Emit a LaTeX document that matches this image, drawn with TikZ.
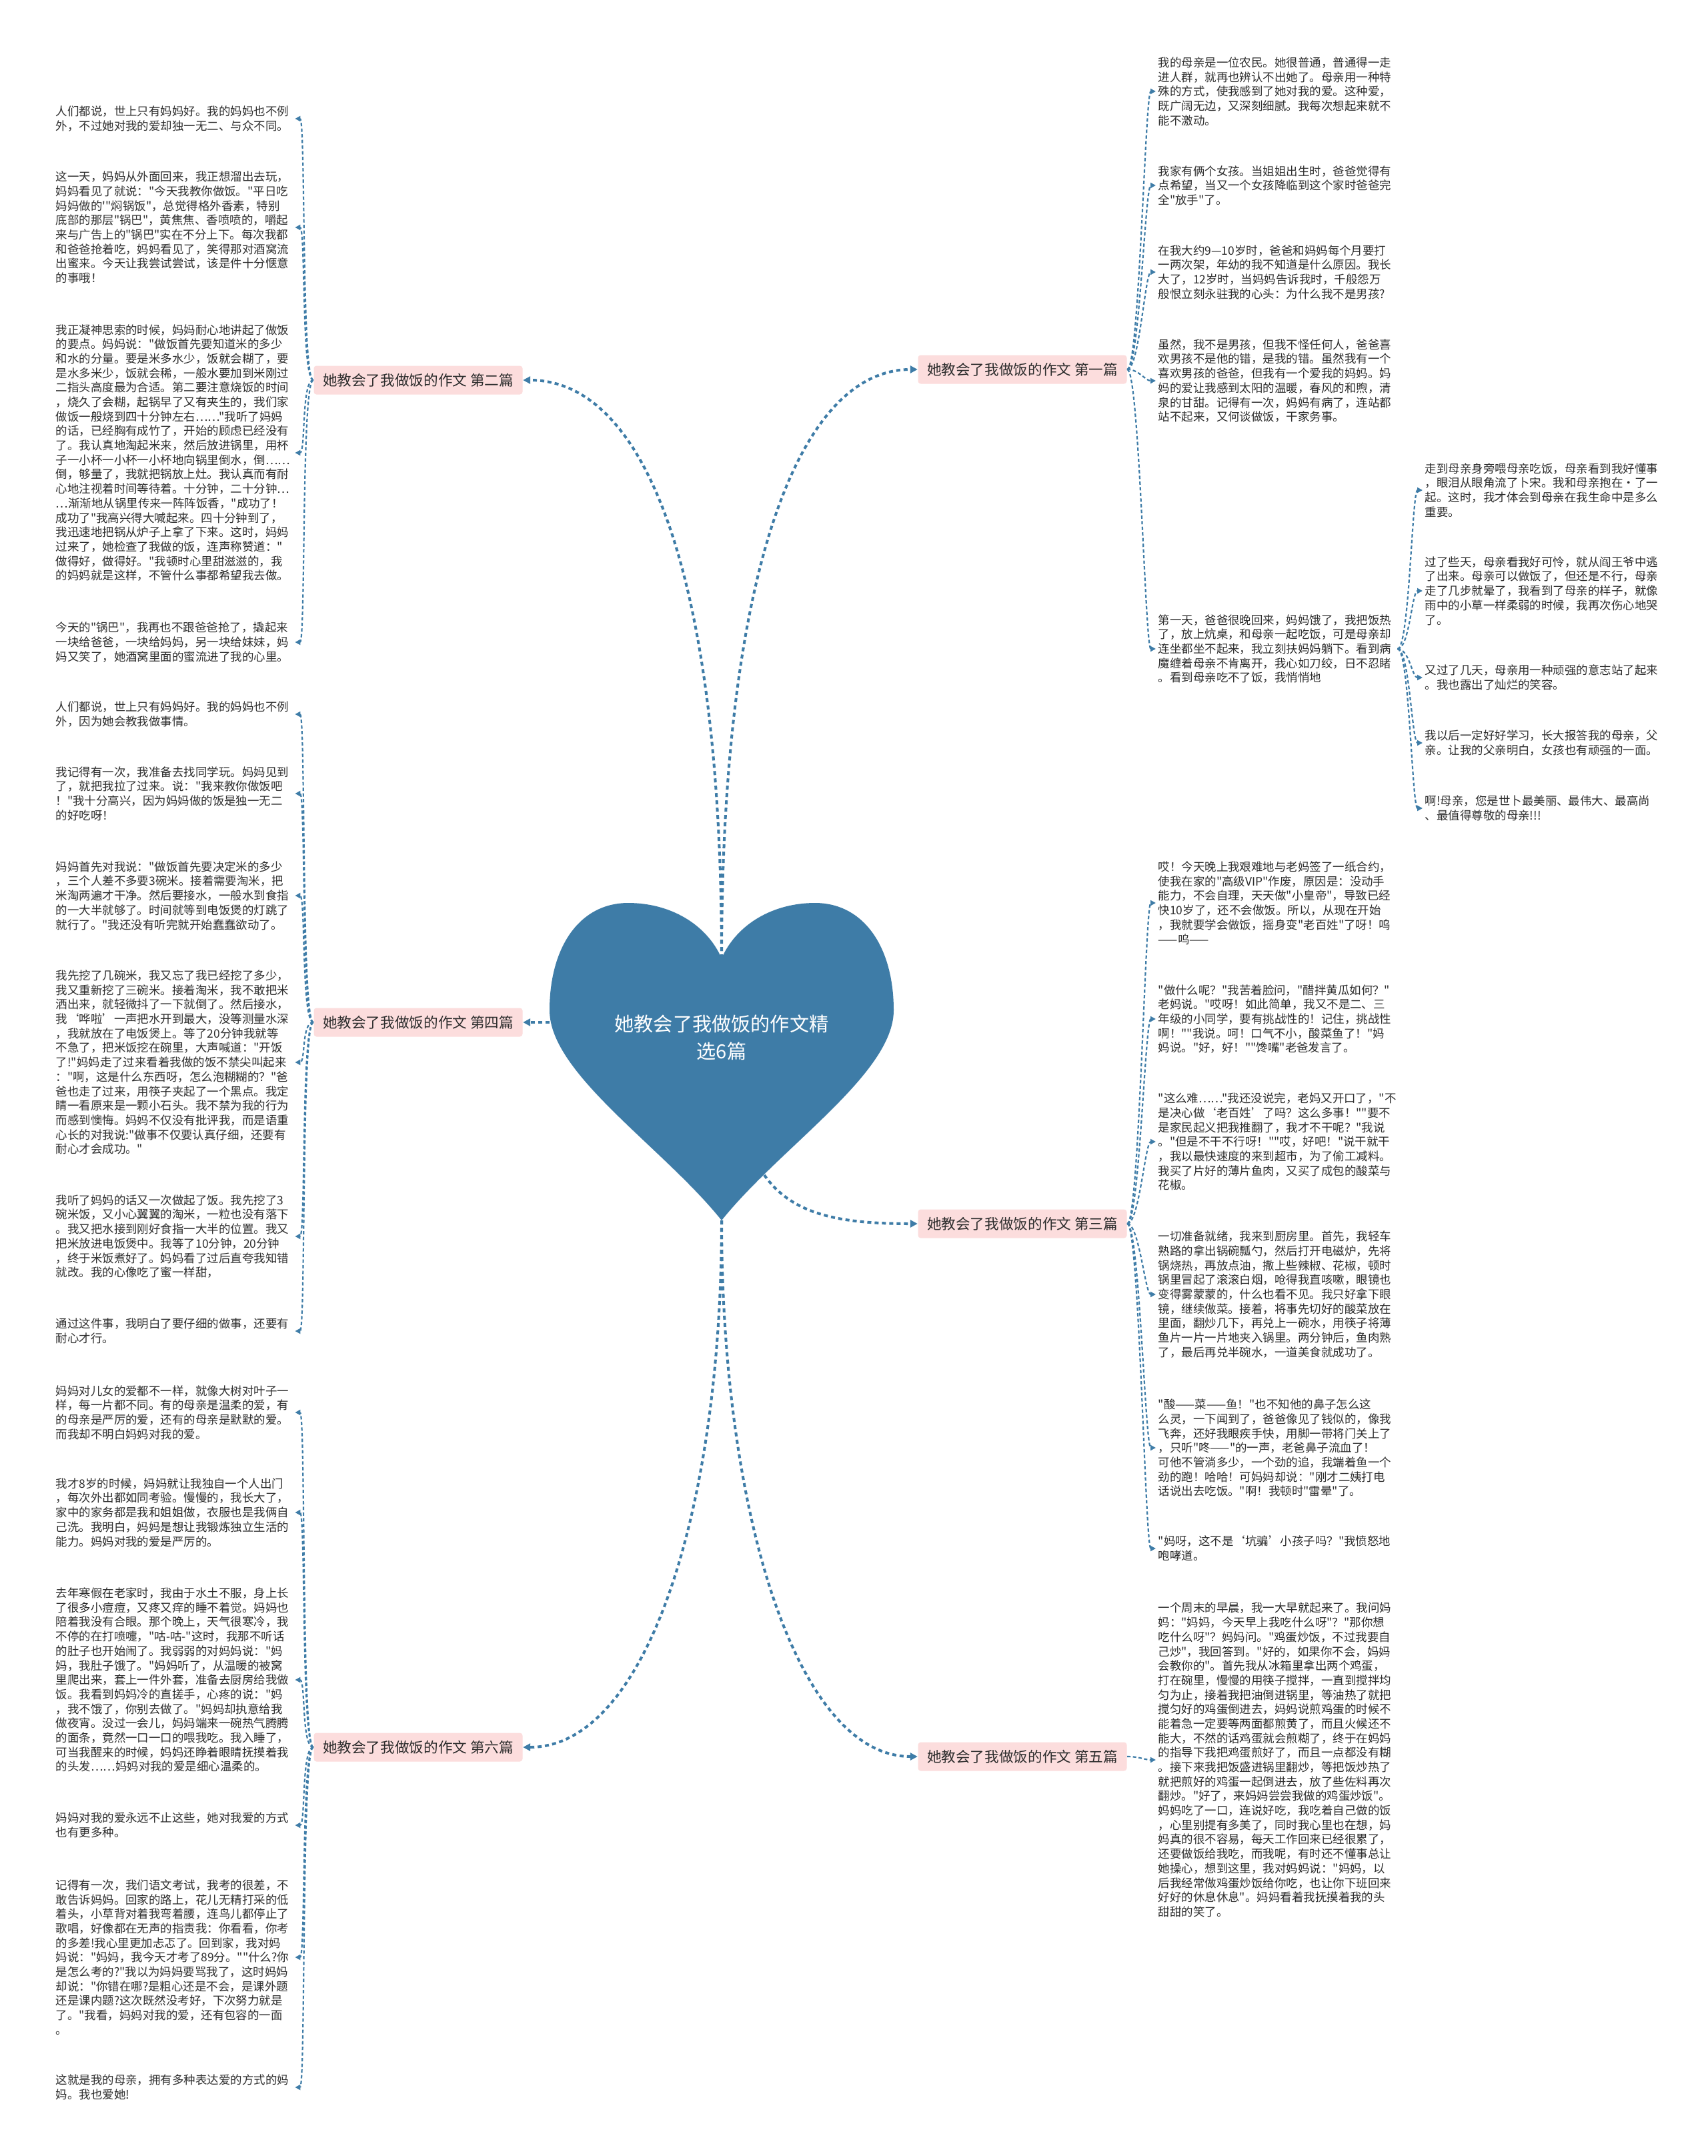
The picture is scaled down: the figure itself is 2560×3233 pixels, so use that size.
\documentclass[tikz,border=0pt]{standalone}
\usepackage{fontspec}
\newfontfamily\cjk{Noto Sans CJK SC}
\usetikzlibrary{arrows.meta}
\definecolor{heartblue}{RGB}{62,124,167}
\definecolor{topicpink}{RGB}{252,221,221}
\definecolor{textgray}{RGB}{45,45,45}

\begin{document}
\begin{tikzpicture}[x=0.1mm,y=-0.1mm,font=\cjk]
    \tikzstyle{topic}=[fill=topicpink,rounded corners=0.4mm,minimum width=31.3mm,minimum height=4.3mm,inner sep=0pt,text=textgray,font=\cjk\fontsize{6.15pt}{7pt}\selectfont]
    \tikzstyle{detail}=[anchor=west,text width=35.5mm,align=left,inner xsep=0.3mm,inner ysep=0pt,text=textgray,font=\cjk\fontsize{4.97pt}{6.17pt}\selectfont]
    \tikzstyle{mainlink}=[-{Triangle[length=1.1mm,width=1.1mm]},draw=heartblue,line width=0.4mm,dash pattern=on 0.6mm off 0.5mm]
    \tikzstyle{sublink}=[-{Triangle[length=0.8mm,width=0.8mm]},draw=heartblue,line width=0.22mm,dash pattern=on 0.5mm off 0.35mm]

    \path[use as bounding box,fill=white] (0,0) rectangle (2560,3233);

    % Draw the heart with the title
    \fill[heartblue] (1082,1437) .. controls (1105,1385) and (1160,1354) .. (1222,1354)
        .. controls (1295,1354) and (1340,1420) .. (1340,1515)
        .. controls (1340,1610) and (1170,1720) .. (1082,1830)
        .. controls (994,1720) and (824,1610) .. (824,1515)
        .. controls (824,1420) and (869,1354) .. (942,1354)
        .. controls (1004,1354) and (1059,1385) .. (1082,1437) -- cycle;
    \node[text=white,align=center,font=\cjk\fontsize{8.3pt}{11.7pt}\selectfont] (title) at (1082,1556) {她教会了我做饭的作文精\\选6篇};
    \coordinate (notch) at (1082,1437);
    \coordinate (tip) at (1082,1830);
    \coordinate (hl) at (824,1533);
    \coordinate (hs) at (1146,1762);

    % Draw the six essays
    \node[topic] (B1) at (1533,554) {她教会了我做饭的作文 第一篇};
    \node[topic] (B2) at (627,570) {她教会了我做饭的作文 第二篇};
    \node[topic] (B3) at (1533,1835) {她教会了我做饭的作文 第三篇};
    \node[topic] (B4) at (627,1533) {她教会了我做饭的作文 第四篇};
    \node[topic] (B5) at (1533,2634) {她教会了我做饭的作文 第五篇};
    \node[topic] (B6) at (627,2620) {她教会了我做饭的作文 第六篇};

    % Details of the second essay
    \node[detail] (L2-1) at (80,178) {人们都说，世上只有妈妈好。我的妈妈也不例\\外，不过她对我的爱却独一无二、与众不同。};
    \node[detail] (L2-2) at (80,341) {这一天，妈妈从外面回来，我正想溜出去玩，\\妈妈看见了就说："今天我教你做饭。"平日吃\\妈妈做的'"焖锅饭"，总觉得格外香素，特别\\底部的那层"锅巴"，黄焦焦、香喷喷的，嚼起\\来与广告上的"锅巴"实在不分上下。每次我都\\和爸爸抢着吃，妈妈看见了，笑得那对酒窝流\\出蜜来。今天让我尝试尝试，该是件十分惬意\\的事哦！};
    \node[detail] (L2-3) at (80,679) {我正凝神思索的时候，妈妈耐心地讲起了做饭\\的要点。妈妈说："做饭首先要知道米的多少\\和水的分量。要是米多水少，饭就会糊了，要\\是水多米少，饭就会稀，一般水要加到米刚过\\二指头高度最为合适。第二要注意烧饭的时间\\，烧久了会糊，起锅早了又有夹生的，我们家\\做饭一般烧到四十分钟左右……"我听了妈妈\\的话，已经胸有成竹了，开始的顾虑已经没有\\了。我认真地淘起米来，然后放进锅里，用杯\\子一小杯一小杯一小杯地向锅里倒水，倒……\\倒，够量了，我就把锅放上灶。我认真而有耐\\心地注视着时间等待着。十分钟，二十分钟…\\…渐渐地从锅里传来一阵阵饭香，"成功了！\\成功了"我高兴得大喊起来。四十分钟到了，\\我迅速地把锅从炉子上拿了下来。这时，妈妈\\过来了，她检查了我做的饭，连声称赞道："\\做得好，做得好。"我顿时心里甜滋滋的，我\\的妈妈就是这样，不管什么事都希望我去做。};
    \node[detail] (L2-4) at (80,963) {今天的"锅巴"，我再也不跟爸爸抢了，撬起来\\一块给爸爸，一块给妈妈，另一块给妹妹，妈\\妈又笑了，她酒窝里面的蜜流进了我的心里。};

    % Details of the fourth essay
    \node[detail] (L4-1) at (80,1071) {人们都说，世上只有妈妈好。我的妈妈也不例\\外，因为她会教我做事情。};
    \node[detail] (L4-2) at (80,1190) {我记得有一次，我准备去找同学玩。妈妈见到\\了，就把我拉了过来。说："我来教你做饭吧\\！"我十分高兴，因为妈妈做的饭是独一无二\\的好吃呀！};
    \node[detail] (L4-3) at (80,1343) {妈妈首先对我说："做饭首先要决定米的多少\\，三个人差不多要3碗米。接着需要淘米，把\\米淘两遍才干净。然后要接水，一般水到食指\\的一大半就够了。时间就等到电饭煲的灯跳了\\就行了。"我还没有听完就开始蠢蠢欲动了。};
    \node[detail] (L4-4) at (80,1593) {我先挖了几碗米，我又忘了我已经挖了多少，\\我又重新挖了三碗米。接着淘米，我不敢把米\\洒出来，就轻微抖了一下就倒了。然后接水，\\我‘哗啦’一声把水开到最大，没等测量水深\\，我就放在了电饭煲上。等了20分钟我就等\\不急了，把米饭挖在碗里，大声喊道："开饭\\了!"妈妈走了过来看着我做的饭不禁尖叫起来\\："啊，这是什么东西呀，怎么泡糊糊的？"爸\\爸也走了过来，用筷子夹起了一个黑点。我定\\睛一看原来是一颗小石头。我不禁为我的行为\\而感到懊悔。妈妈不仅没有批评我，而是语重\\心长的对我说:"做事不仅要认真仔细，还要有\\耐心才会成功。"};
    \node[detail] (L4-5) at (80,1854) {我听了妈妈的话又一次做起了饭。我先挖了3\\碗米饭，又小心翼翼的淘米，一粒也没有落下\\。我又把水接到刚好食指一大半的位置。我又\\把米放进电饭煲中。我等了10分钟，20分钟\\，终于米饭煮好了。妈妈看了过后直夸我知错\\就改。我的心像吃了蜜一样甜，};
    \node[detail] (L4-6) at (80,1996) {通过这件事，我明白了要仔细的做事，还要有\\耐心才行。};

    % Details of the sixth essay
    \node[detail] (L6-1) at (80,2118) {妈妈对儿女的爱都不一样，就像大树对叶子一\\样，每一片都不同。有的母亲是温柔的爱，有\\的母亲是严厉的爱，还有的母亲是默默的爱。\\而我却不明白妈妈对我的爱。};
    \node[detail] (L6-2) at (80,2268) {我才8岁的时候，妈妈就让我独自一个人出门\\，每次外出都如同考验。慢慢的，我长大了，\\家中的家务都是我和姐姐做，衣服也是我俩自\\己洗。我明白，妈妈是想让我锻炼独立生活的\\能力。妈妈对我的爱是严厉的。};
    \node[detail] (L6-3) at (80,2519) {去年寒假在老家时，我由于水土不服，身上长\\了很多小痘痘，又疼又痒的睡不着觉。妈妈也\\陪着我没有合眼。那个晚上，天气很寒冷，我\\不停的在打喷嚏，"咕-咕-"这时，我那不听话\\的肚子也开始闹了。我弱弱的对妈妈说："妈\\妈，我肚子饿了。"妈妈听了，从温暖的被窝\\里爬出来，套上一件外套，准备去厨房给我做\\饭。我看到妈妈冷的直搓手，心疼的说："妈\\，我不饿了，你别去做了。"妈妈却执意给我\\做夜宵。没过一会儿，妈妈端来一碗热气腾腾\\的面条，竟然一口一口的喂我吃。我入睡了，\\可当我醒来的时候，妈妈还睁着眼睛抚摸着我\\的头发……妈妈对我的爱是细心温柔的。};
    \node[detail] (L6-4) at (80,2737) {妈妈对我的爱永远不止这些，她对我爱的方式\\也有更多种。};
    \node[detail] (L6-5) at (80,2935) {记得有一次，我们语文考试，我考的很差，不\\敢告诉妈妈。回家的路上，花儿无精打采的低\\着头，小草背对着我弯着腰，连鸟儿都停止了\\歌唱，好像都在无声的指责我：你看看，你考\\的多差!我心里更加忐忑了。回到家，我对妈\\妈说："妈妈，我今天才考了89分。""什么?你\\是怎么考的?"我以为妈妈要骂我了，这时妈妈\\却说："你错在哪?是粗心还是不会，是课外题\\还是课内题?这次既然没考好，下次努力就是\\了。"我看，妈妈对我的爱，还有包容的一面\\。};
    \node[detail] (L6-6) at (80,3130) {这就是我的母亲，拥有多种表达爱的方式的妈\\妈。我也爱她!};

    % Details of the first essay
    \node[detail] (R1-1) at (1733,137) {我的母亲是一位农民。她很普通，普通得一走\\进人群，就再也辨认不出她了。母亲用一种特\\殊的方式，使我感到了她对我的爱。这种爱，\\既广阔无边，又深刻细腻。我每次想起来就不\\能不激动。};
    \node[detail] (R1-2) at (1733,278) {我家有俩个女孩。当姐姐出生时，爸爸觉得有\\点希望，当又一个女孩降临到这个家时爸爸完\\全"放手"了。};
    \node[detail] (R1-3) at (1733,408) {在我大约9—10岁时，爸爸和妈妈每个月要打\\一两次架，年幼的我不知道是什么原因。我长\\大了，12岁时，当妈妈告诉我时，千般怨万\\般恨立刻永驻我的心头：为什么我不是男孩?};
    \node[detail] (R1-4) at (1733,571) {虽然，我不是男孩，但我不怪任何人，爸爸喜\\欢男孩不是他的错，是我的错。虽然我有一个\\喜欢男孩的爸爸，但我有一个爱我的妈妈。妈\\妈的爱让我感到太阳的温暖，春风的和煦，清\\泉的甘甜。记得有一次，妈妈有病了，连站都\\站不起来，又何谈做饭，干家务事。};
    \node[detail] (R1-5) at (1733,973) {第一天，爸爸很晚回来，妈妈饿了，我把饭热\\了，放上炕桌，和母亲一起吃饭，可是母亲却\\连坐都坐不起来，我立刻扶妈妈躺下。看到病\\魔缠着母亲不肯离开，我心如刀绞，日不忍睹\\。看到母亲吃不了饭，我悄悄地};

    % The story goes on after the first day
    \node[detail] (S-1) at (2133,735) {走到母亲身旁喂母亲吃饭，母亲看到我好懂事\\，眼泪从眼角流了卜宋。我和母亲抱在·了一\\起。这时，我才体会到母亲在我生命中是多么\\重要。};
    \node[detail] (S-2) at (2133,886) {过了些天，母亲看我好可怜，就从阎王爷中逃\\了出来。母亲可以做饭了，但还是不行，母亲\\走了几步就晕了，我看到了母亲的样子，就像\\雨中的小草一样柔弱的时候，我再次伤心地哭\\了。};
    \node[detail] (S-3) at (2133,1016) {又过了几天，母亲用一种顽强的意志站了起来\\。我也露出了灿烂的笑容。};
    \node[detail] (S-4) at (2133,1114) {我以后一定好好学习，长大报答我的母亲，父\\亲。让我的父亲明白，女孩也有顽强的一面。};
    \node[detail] (S-5) at (2133,1212) {啊!母亲，您是世卜最美丽、最伟大、最高尚\\、最值得尊敬的母亲!!!};

    % Details of the third essay
    \node[detail] (R3-1) at (1733,1354) {哎！今天晚上我艰难地与老妈签了一纸合约，\\使我在家的"高级VIP"作废，原因是：没动手\\能力，不会自理，天天做"小皇帝"，导致已经\\快10岁了，还不会做饭。所以，从现在开始\\，我就要学会做饭，摇身变"老百姓"了呀！呜\\——呜——};
    \node[detail] (R3-2) at (1733,1528) {"做什么呢？"我苦着脸问，"醋拌黄瓜如何？"\\老妈说。"哎呀！如此简单，我又不是二、三\\年级的小同学，要有挑战性的！记住，挑战性\\啊！""我说。呵！口气不小，酸菜鱼了！"妈\\妈说。"好，好！""馋嘴"老爸发言了。};
    \node[detail] (R3-3) at (1733,1712) {"这么难……"我还没说完，老妈又开口了，"不\\是决心做‘老百姓’了吗？这么多事！""要不\\是家民起义把我推翻了，我才不干呢？"我说\\。"但是不干不行呀！""哎，好吧！"说干就干\\，我以最快速度的来到超市，为了偷工减料。\\我买了片好的薄片鱼肉，又买了成包的酸菜与\\花椒。};
    \node[detail] (R3-4) at (1733,1941) {一切准备就绪，我来到厨房里。首先，我轻车\\熟路的拿出锅碗瓢勺，然后打开电磁炉，先将\\锅烧热，再放点油，撒上些辣椒、花椒，顿时\\锅里冒起了滚滚白烟，呛得我直咳嗽，眼镜也\\变得雾蒙蒙的，什么也看不见。我只好拿下眼\\镜，继续做菜。接着，将事先切好的酸菜放在\\里面，翻炒几下，再兑上一碗水，用筷子将薄\\鱼片一片一片地夹入锅里。两分钟后，鱼肉熟\\了，最后再兑半碗水，一道美食就成功了。};
    \node[detail] (R3-5) at (1733,2171) {"酸——菜——鱼！"也不知他的鼻子怎么这\\么灵，一下闻到了，爸爸像见了钱似的，像我\\飞奔，还好我眼疾手快，用脚一带将门关上了\\，只听"咚——"的一声，老爸鼻子流血了！\\可他不管淌多少，一个劲的追，我端着鱼一个\\劲的跑！哈哈！可妈妈却说："刚才二姨打电\\话说出去吃饭。"啊！我顿时"雷晕"了。};
    \node[detail] (R3-6) at (1733,2322) {"妈呀，这不是‘坑骗’小孩子吗？"我愤怒地\\咆哮道。};

    % Details of the fifth essay
    \node[detail] (R5-1) at (1733,2639) {一个周末的早晨，我一大早就起来了。我问妈\\妈："妈妈，今天早上我吃什么呀"？"那你想\\吃什么呀"？妈妈问。"鸡蛋炒饭，不过我要自\\己炒"，我回答到。"好的，如果你不会，妈妈\\会教你的"。首先我从冰箱里拿出两个鸡蛋，\\打在碗里，慢慢的用筷子搅拌，一直到搅拌均\\匀为止，接着我把油倒进锅里，等油热了就把\\搅匀好的鸡蛋倒进去，妈妈说煎鸡蛋的时候不\\能着急一定要等两面都煎黄了，而且火候还不\\能大，不然的话鸡蛋就会煎糊了，终于在妈妈\\的指导下我把鸡蛋煎好了，而且一点都没有糊\\。接下来我把饭盛进锅里翻炒，等把饭炒热了\\就把煎好的鸡蛋一起倒进去，放了些佐料再次\\翻炒。"好了，来妈妈尝尝我做的鸡蛋炒饭"。\\妈妈吃了一口，连说好吃，我吃着自己做的饭\\，心里别提有多美了，同时我心里也在想，妈\\妈真的很不容易，每天工作回来已经很累了，\\还要做饭给我吃，而我呢，有时还不懂事总让\\她操心，想到这里，我对妈妈说："妈妈，以\\后我经常做鸡蛋炒饭给你吃，也让你下班回来\\好好的休息休息"。妈妈看着我抚摸着我的头\\甜甜的笑了。};

    % Connect the heart with every essay
    \draw[mainlink] (notch) .. controls (1082,866) and (969,570) .. (B2.east);
    \draw[mainlink] (notch) .. controls (1082,866) and (1195,554) .. (B1.west);
    \draw[mainlink] (hl) -- (B4.east);
    \draw[mainlink] (hs) .. controls (1188,1822) and (1260,1835) .. (B3.west);
    \draw[mainlink] (tip) .. controls (1082,2265) and (969,2620) .. (B6.east);
    \draw[mainlink] (tip) .. controls (1082,2270) and (1195,2634) .. (B5.west);

    % Connect every essay with its details
    \foreach \n in {1,...,4}
        \draw[sublink] (B2.west) .. controls +(-18,0) and +(16,0) .. (L2-\n.east);
    \foreach \n in {1,...,6}
        \draw[sublink] (B4.west) .. controls +(-18,0) and +(16,0) .. (L4-\n.east);
    \foreach \n in {1,...,6}
        \draw[sublink] (B6.west) .. controls +(-18,0) and +(16,0) .. (L6-\n.east);
    \foreach \n in {1,...,5}
        \draw[sublink] (B1.east) .. controls +(18,0) and +(-16,0) .. (R1-\n.west);
    \foreach \n in {1,...,6}
        \draw[sublink] (B3.east) .. controls +(18,0) and +(-16,0) .. (R3-\n.west);
    \draw[sublink] (B5.east) .. controls +(18,0) and +(-16,0) .. (R5-1.west);

    % The first day leads to the rest of the story
    \foreach \n in {1,...,5}
        \draw[sublink] (R1-5.east) .. controls +(18,0) and +(-16,0) .. (S-\n.west);
\end{tikzpicture}
\end{document}
